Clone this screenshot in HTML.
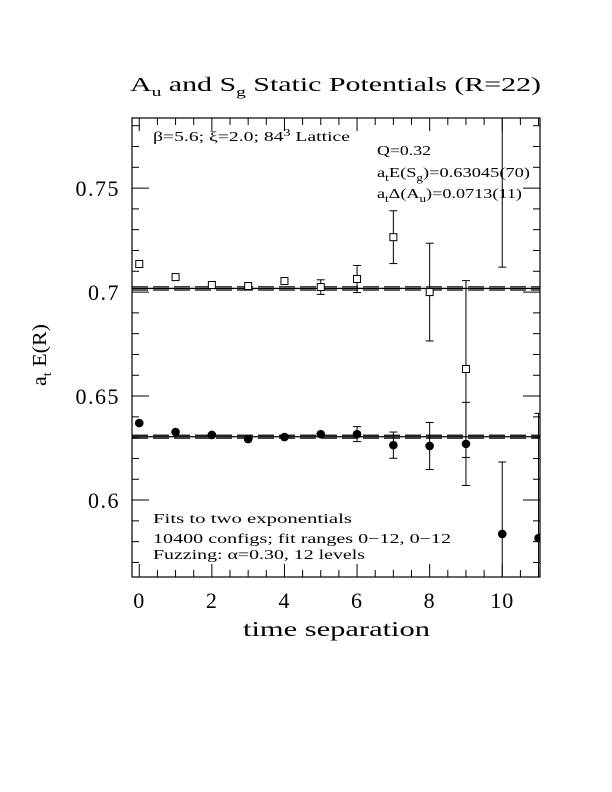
<!DOCTYPE html>
<html><head><meta charset="utf-8"><style>
html,body{margin:0;padding:0;background:#fff;width:612px;height:792px;overflow:hidden}
svg{display:block;font-family:"Liberation Serif",serif}
</style></head><body>
<svg id="chart" width="612" height="792" viewBox="0 0 612 792" xmlns="http://www.w3.org/2000/svg">
<text x="130" y="91" font-size="20" textLength="411" lengthAdjust="spacingAndGlyphs">A<tspan font-size="13" dy="5">u</tspan><tspan dy="-5"> and S</tspan><tspan font-size="13" dy="5">g</tspan><tspan dy="-5"> Static Potentials (R=22)</tspan></text>
<rect x="132" y="118" width="408" height="459" fill="none" stroke="#000" stroke-width="1.2"/>
<g id="ticks"></g>
<g id="fits"></g>
<g id="marks"></g>
<g id="labels" font-size="22"></g>
<text transform="translate(46,386) rotate(-90)" font-size="20" textLength="62" lengthAdjust="spacingAndGlyphs">a<tspan font-size="13" dy="5">t</tspan><tspan dy="-5"> E(R)</tspan></text>
<text x="243" y="636" font-size="21" textLength="187" lengthAdjust="spacingAndGlyphs">time separation</text>
<text x="153" y="141" font-size="14" textLength="197" lengthAdjust="spacingAndGlyphs">β=5.6; ξ=2.0; 84<tspan font-size="10" dy="-5">3</tspan><tspan dy="5"> Lattice</tspan></text>
<text x="377" y="155" font-size="14" textLength="54" lengthAdjust="spacingAndGlyphs">Q=0.32</text>
<text x="377" y="177" font-size="14" textLength="153" lengthAdjust="spacingAndGlyphs">a<tspan font-size="10" dy="4">t</tspan><tspan dy="-4">E(S</tspan><tspan font-size="10" dy="4">g</tspan><tspan dy="-4">)=0.63045(70)</tspan></text>
<text x="377" y="198" font-size="14" textLength="145" lengthAdjust="spacingAndGlyphs">a<tspan font-size="10" dy="4">t</tspan><tspan dy="-4">Δ(A</tspan><tspan font-size="10" dy="4">u</tspan><tspan dy="-4">)=0.0713(11)</tspan></text>
<text x="153" y="523" font-size="14" textLength="199" lengthAdjust="spacingAndGlyphs">Fits to two exponentials</text>
<text x="153" y="543" font-size="14" textLength="298" lengthAdjust="spacingAndGlyphs">10400 configs; fit ranges 0−12, 0−12</text>
<text x="153" y="559" font-size="14" textLength="212" lengthAdjust="spacingAndGlyphs">Fuzzing: α=0.30, 12 levels</text>
</svg>
<script>
const tAu=[0,1,2,3,4,5,6,7,8,9,10];
const eAu=[0.7135,0.7072,0.7034,0.7029,0.7053,0.7024,0.7063,0.7264,0.700,0.663,0.80];
const errAu=[0,0,0,0,0,0.0035,0.0065,0.0127,0.0235,0.0425,0.088];
const tSg=[0,1,2,3,4,5,6,7,8,9,10,11];
const eSg=[0.637,0.6327,0.6313,0.6293,0.6303,0.6317,0.6317,0.6264,0.626,0.627,0.5837,0.5817];
const errSg=[0,0,0,0,0,0,0.0036,0.0063,0.0113,0.02,0.0346,0.06];
const fitSg=0.63045, fitSgErr=0.0007;
const fitGap=0.0713, fitGapErr=0.0011;
const yTickLabels=["0.6","0.65","0.7","0.75"];
const xTickLabels=["0","2","4","6","8","10"];
const X0=132,X1=540,Y0=118,Y1=577,xmin=-0.2,xmax=11.04,ymin=0.563,ymax=0.7837;
const sx=v=>X0+(v-xmin)/(xmax-xmin)*(X1-X0);
const sy=v=>Y1-(v-ymin)/(ymax-ymin)*(Y1-Y0);
const NS="http://www.w3.org/2000/svg";
function mk(tag,attrs,parent){const e=document.createElementNS(NS,tag);for(const k in attrs)e.setAttribute(k,attrs[k]);parent.appendChild(e);return e;}
const ticks=document.getElementById('ticks'),fits=document.getElementById('fits'),marks=document.getElementById('marks'),labels=document.getElementById('labels');
for(let i=0;i<=22;i++){const v=i*0.5;const x=sx(v);const L=(i%4===0)?13:7;
 const a=mk('line',{x1:x,x2:x,y1:Y1,y2:Y1-L,stroke:'#000'},ticks);
 
 
 const b=mk('line',{x1:x,x2:x,y1:Y0,y2:Y0+L,stroke:'#000'},ticks);
 
 }
for(let i=57;i<=78;i++){const v=i/100;const y=sy(v);const L=(i%5===0)?17:7;
 const a=mk('line',{x1:X0,x2:X0+L,y1:y,y2:y,stroke:'#000'},ticks);
 
 
 const b=mk('line',{x1:X1,x2:X1-L,y1:y,y2:y,stroke:'#000'},ticks);
 
 }
yTickLabels.forEach(s=>{const t=mk('text',{x:X0-12,y:sy(parseFloat(s))+8,'text-anchor':'end','letter-spacing':'1.5'},labels);t.textContent=s;
 
 });
xTickLabels.forEach(s=>{const t=mk('text',{x:sx(parseFloat(s)),y:Y1+31,'text-anchor':'middle','letter-spacing':'1'},labels);t.textContent=s;
 
 });
function fitBand(c,e,name){
 const l=mk('line',{x1:X0,x2:X1,y1:sy(c),y2:sy(c),stroke:'#000','stroke-width':1.3},fits);
 
 
 [c+e,c-e].forEach(v=>{const d=mk('line',{x1:X0,x2:X1,y1:sy(v),y2:sy(v),stroke:'#000','stroke-width':1.2,'stroke-dasharray':'16,5'},fits);
  
  });
}
fitBand(fitSg,fitSgErr,'sg');
fitBand(fitSg+fitGap,Math.sqrt(fitGapErr*fitGapErr+fitSgErr*fitSgErr)*0.6,'au');
const clip=mk('clipPath',{id:'pc'},document.getElementById('chart'));
mk('rect',{x:X0,y:Y0,width:X1-X0,height:Y1-Y0},clip);
marks.setAttribute('clip-path','url(#pc)');
function errbar(x,c,e,name){if(e<=0)return;const y1=sy(c+e),y2=sy(c-e);
 const g=mk('g',{stroke:'#000','stroke-width':1},marks);
 
 
 mk('line',{x1:x,x2:x,y1:y1,y2:y2},g);mk('line',{x1:x-4,x2:x+4,y1:y1,y2:y1},g);mk('line',{x1:x-4,x2:x+4,y1:y2,y2:y2},g);}
tAu.forEach((t,i)=>{const x=sx(t),y=sy(eAu[i]);errbar(x,eAu[i],errAu[i],'au');
 const r=mk('rect',{x:x-3.5,y:y-3.5,width:7,height:7,fill:'#fff',stroke:'#000','stroke-width':1},marks);
 
 });
tSg.forEach((t,i)=>{const x=sx(t),y=sy(eSg[i]);errbar(x,eSg[i],errSg[i],'sg');
 const c=mk('circle',{cx:x,cy:y,r:4.3,fill:'#000'},marks);
 
 });
</script>
</body></html>
